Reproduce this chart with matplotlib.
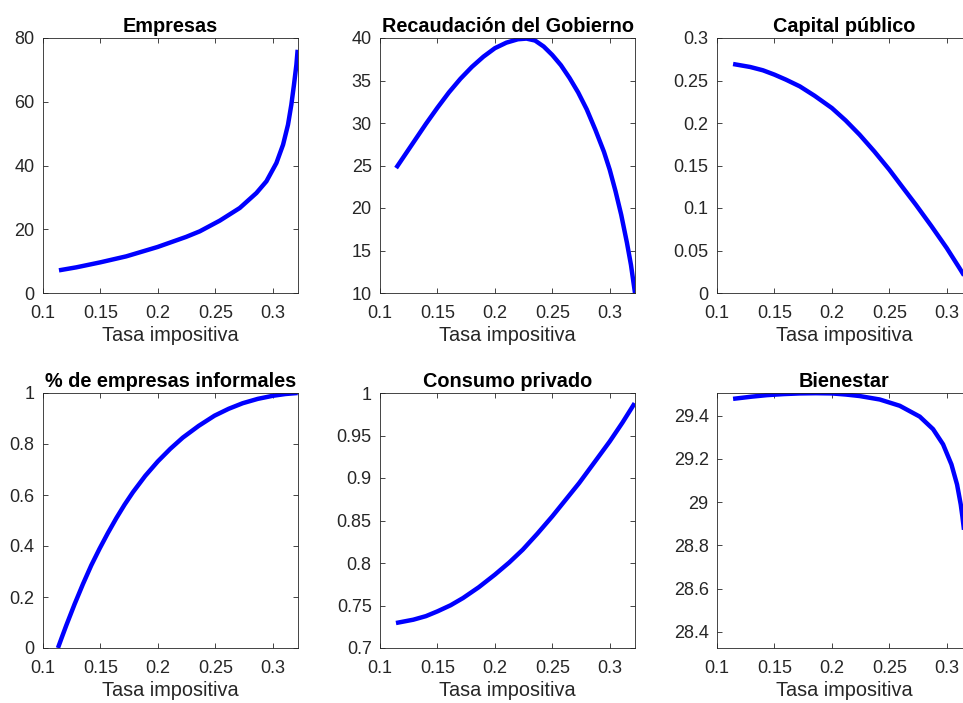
import matplotlib
matplotlib.use("Agg")
import matplotlib.pyplot as plt

plt.rcParams['font.family'] = ['Liberation Sans', 'DejaVu Sans']

# tasa impositiva (x) and each series
tasa_emp = [0.1139, 0.129, 0.1499, 0.1725, 0.1997, 0.2246, 0.2365, 0.2539, 0.2713,
            0.2858, 0.2945, 0.3032, 0.309, 0.3133, 0.3162, 0.3185, 0.3206, 0.3217]
empresas = [7.11, 8.05, 9.62, 11.5, 14.43, 17.6, 19.35, 22.7, 26.67,
            31.37, 35.04, 40.78, 46.53, 52.8, 59.08, 65.35, 71.6, 76.3]

tasa_rec = [0.114, 0.12, 0.13, 0.14, 0.15, 0.16, 0.17, 0.18, 0.19, 0.20, 0.21, 0.22,
            0.2275, 0.235, 0.2425, 0.25, 0.2575, 0.265, 0.2725, 0.28, 0.2875, 0.295,
            0.30, 0.305, 0.31, 0.315, 0.3185, 0.322]
recaudacion = [24.7, 25.9, 27.9, 29.9, 31.8, 33.6, 35.2, 36.6, 37.8, 38.8, 39.45, 39.85,
               39.93, 39.7, 39.0, 38.0, 36.8, 35.3, 33.6, 31.6, 29.2, 26.6,
               24.5, 22.0, 19.2, 15.9, 13.3, 10.0]

tasa_cap = [0.114, 0.1289, 0.14, 0.15, 0.16, 0.1721, 0.185, 0.2, 0.212, 0.2241,
            0.237, 0.25, 0.2615, 0.2731, 0.2865, 0.3, 0.311, 0.322]
capital = [0.2694, 0.2659, 0.2620, 0.2569, 0.2510, 0.2431, 0.2320, 0.2176, 0.2030,
           0.1863, 0.1665, 0.1451, 0.1245, 0.1039, 0.0790, 0.0529, 0.0295, 0.0055]

tasa_inf = [0.113, 0.1165, 0.1203, 0.1275, 0.1348, 0.142, 0.1493, 0.1565, 0.1638,
            0.171, 0.1783, 0.189, 0.2, 0.2108, 0.2217, 0.2355, 0.2493, 0.2616,
            0.2739, 0.287, 0.3, 0.311, 0.3217]
informales = [0.0, 0.043, 0.089, 0.172, 0.251, 0.324, 0.390, 0.451, 0.509,
              0.562, 0.611, 0.675, 0.732, 0.781, 0.825, 0.871, 0.911, 0.938,
              0.960, 0.977, 0.989, 0.996, 1.0]

tasa_con = [0.1139, 0.129, 0.14, 0.15, 0.1615, 0.1723, 0.186, 0.2, 0.2125, 0.2243,
            0.237, 0.25, 0.2617, 0.2734, 0.2867, 0.3, 0.311, 0.3217]
consumo = [0.7294, 0.7333, 0.7375, 0.7431, 0.7503, 0.7588, 0.7715, 0.7863, 0.8006,
           0.8157, 0.8345, 0.8549, 0.8745, 0.8941, 0.9185, 0.943, 0.965, 0.988]

tasa_bien = [0.114, 0.13, 0.1433, 0.158, 0.1721, 0.186, 0.2, 0.212, 0.2241, 0.2417,
             0.2591, 0.2765, 0.2881, 0.2968, 0.3041, 0.309, 0.3122, 0.3136, 0.316,
             0.318, 0.3195, 0.321, 0.322]
bienestar = [29.477, 29.487, 29.494, 29.499, 29.502, 29.503, 29.502, 29.497, 29.49, 29.474,
             29.445, 29.395, 29.337, 29.267, 29.174, 29.081, 28.989, 28.935, 28.83,
             28.71, 28.60, 28.46, 28.33]

paneles = [
    ("Empresas", tasa_emp, empresas, (0, 80), [0, 20, 40, 60, 80], ["0", "20", "40", "60", "80"]),
    ("Recaudación del Gobierno", tasa_rec, recaudacion, (10, 40),
     [10, 15, 20, 25, 30, 35, 40], ["10", "15", "20", "25", "30", "35", "40"]),
    ("Capital público", tasa_cap, capital, (0, 0.3),
     [0, 0.05, 0.1, 0.15, 0.2, 0.25, 0.3], ["0", "0.05", "0.1", "0.15", "0.2", "0.25", "0.3"]),
    ("% de empresas informales", tasa_inf, informales, (0, 1),
     [0, 0.2, 0.4, 0.6, 0.8, 1], ["0", "0.2", "0.4", "0.6", "0.8", "1"]),
    ("Consumo privado", tasa_con, consumo, (0.7, 1),
     [0.7, 0.75, 0.8, 0.85, 0.9, 0.95, 1], ["0.7", "0.75", "0.8", "0.85", "0.9", "0.95", "1"]),
    ("Bienestar", tasa_bien, bienestar, (28.326, 29.504),
     [28.4, 28.6, 28.8, 29.0, 29.2, 29.4], ["28.4", "28.6", "28.8", "29", "29.2", "29.4"]),
]

xticks = [0.1, 0.15, 0.2, 0.25, 0.3]
xlabels = ["0.1", "0.15", "0.2", "0.25", "0.3"]

fig = plt.figure(figsize=(9.63, 7.03), dpi=100)
lefts = [43 / 963, 380 / 963, 717 / 963]
bottoms = [1 - 293 / 703, 1 - 648 / 703]
w = 255 / 963
h = 255 / 703
gris = "#262626"

for i, (titulo, x, y, ylim, yt, ytl) in enumerate(paneles):
    ax = fig.add_axes([lefts[i % 3], bottoms[i // 3], w, h])
    ax.plot(x, y, color="blue", lw=3.2, solid_joinstyle="round", solid_capstyle="butt")
    ax.set_xlim(0.1, 0.322)
    ax.set_ylim(*ylim)
    ax.set_xticks(xticks)
    ax.set_xticklabels(xlabels)
    ax.set_yticks(yt)
    ax.set_yticklabels(ytl)
    ax.tick_params(direction="in", top=True, right=True, length=3.5, width=0.6,
                   colors=gris, labelsize=13, labelcolor=gris)
    ax.tick_params(axis="x", pad=8.5)
    ax.tick_params(axis="y", pad=6)
    for s in ax.spines.values():
        s.set_color(gris)
        s.set_linewidth(0.6)
    ax.set_title(titulo, fontsize=14.3, fontweight="bold", pad=4.5)
    ax.set_xlabel("Tasa impositiva", fontsize=14.3, color=gris, labelpad=3)

fig.savefig("out.png", dpi=100)
